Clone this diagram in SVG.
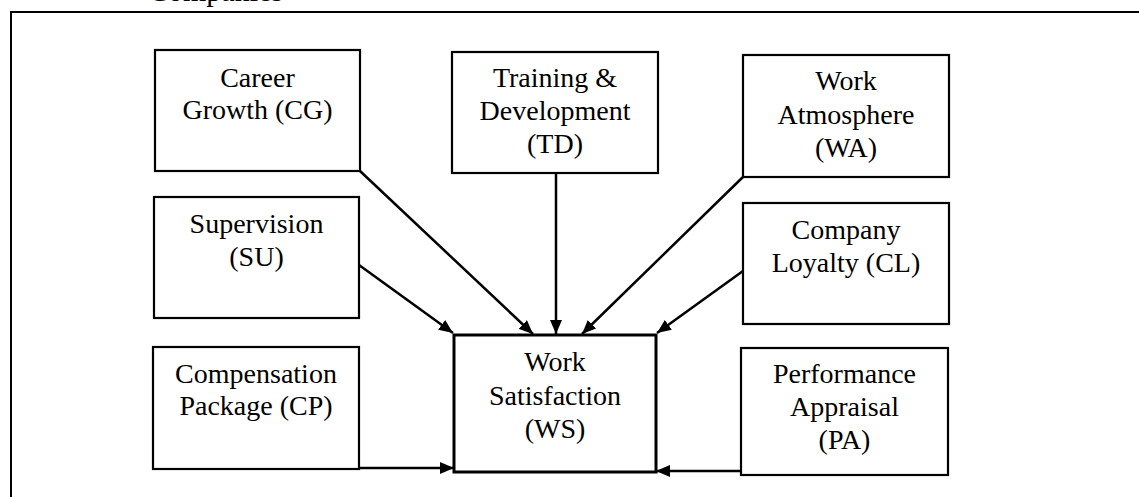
<svg xmlns="http://www.w3.org/2000/svg" width="1139" height="497" viewBox="0 0 1139 497">
<style>
  .box { fill: #fff; stroke: #000; stroke-width: 2.2; }
  .main { fill: #fff; stroke: #000; stroke-width: 3; }
  .lbl { font-family: "Liberation Serif", "Times New Roman", serif; font-size: 28px; fill: #000; text-anchor: middle; }
  .conn { stroke: #000; stroke-width: 2.5; fill: none; marker-end: url(#ah); }
  .frame { stroke: #000; stroke-width: 2; fill: none; }
</style>
<defs>
  <marker id="ah" viewBox="0 0 14 12" refX="14" refY="6" markerWidth="14" markerHeight="12" markerUnits="userSpaceOnUse" orient="auto">
    <path d="M0,0 L14,6 L0,12 Z" fill="#000"/>
  </marker>
</defs>
<rect width="1139" height="497" fill="#fff"/>
<text class="lbl" x="148" y="1" style="text-anchor:start;font-size:30px">Companies</text>
<path class="frame" d="M11,497 V12 H1139"/>

<g id="CG">
  <rect class="box" x="155" y="50" width="205" height="121"/>
  <text class="lbl" x="257.5" y="87">Career</text>
  <text class="lbl" x="257.5" y="119">Growth (CG)</text>
</g>
<g id="TD">
  <rect class="box" x="452" y="52" width="206" height="121"/>
  <text class="lbl" x="555" y="87">Training &amp;</text>
  <text class="lbl" x="555" y="120">Development</text>
  <text class="lbl" x="555" y="153">(TD)</text>
</g>
<g id="WA">
  <rect class="box" x="743" y="55" width="206" height="122"/>
  <text class="lbl" x="846" y="90">Work</text>
  <text class="lbl" x="846" y="124">Atmosphere</text>
  <text class="lbl" x="846" y="157">(WA)</text>
</g>
<g id="SU">
  <rect class="box" x="154" y="197" width="205" height="121"/>
  <text class="lbl" x="256.5" y="233">Supervision</text>
  <text class="lbl" x="256.5" y="266">(SU)</text>
</g>
<g id="CL">
  <rect class="box" x="743" y="203" width="206" height="121"/>
  <text class="lbl" x="846" y="239">Company</text>
  <text class="lbl" x="846" y="272">Loyalty (CL)</text>
</g>
<g id="CP">
  <rect class="box" x="153" y="347" width="206" height="122"/>
  <text class="lbl" x="256" y="383">Compensation</text>
  <text class="lbl" x="256" y="415">Package (CP)</text>
</g>
<g id="WS">
  <rect class="main" x="454" y="335" width="202" height="137"/>
  <text class="lbl" x="555" y="371">Work</text>
  <text class="lbl" x="555" y="405">Satisfaction</text>
  <text class="lbl" x="555" y="438">(WS)</text>
</g>
<g id="PA">
  <rect class="box" x="741" y="348" width="207" height="127"/>
  <text class="lbl" x="844.5" y="383">Performance</text>
  <text class="lbl" x="844.5" y="416">Appraisal</text>
  <text class="lbl" x="844.5" y="449">(PA)</text>
</g>

<g id="connectors">
  <line class="conn" x1="360" y1="171" x2="533" y2="334"/>
  <line class="conn" x1="556" y1="173" x2="556" y2="334"/>
  <line class="conn" x1="743" y1="177" x2="582" y2="334"/>
  <line class="conn" x1="359" y1="265" x2="453" y2="333"/>
  <line class="conn" x1="743" y1="271" x2="657" y2="333"/>
  <line class="conn" x1="359" y1="468" x2="454" y2="468"/>
  <line class="conn" x1="741" y1="471" x2="656" y2="471"/>
</g>
</svg>
